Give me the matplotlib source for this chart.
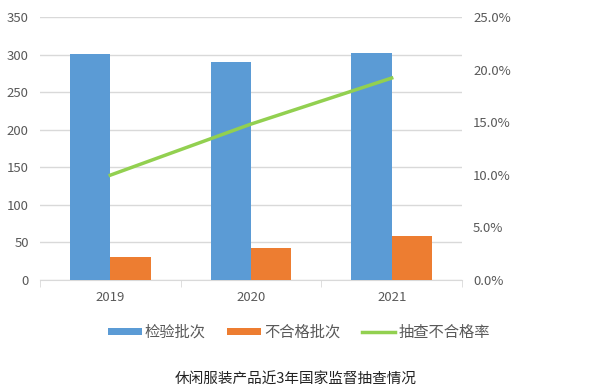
import matplotlib
matplotlib.use("Agg")
import matplotlib.pyplot as plt
from matplotlib.ticker import FuncFormatter
import numpy as np

plt.rcParams['font.family'] = ['Noto Sans CJK SC', 'DejaVu Sans']

years = ['2019', '2020', '2021']
checked = [301, 290, 302]
failed = [30, 43, 58]
fail_rate = [0.0997, 0.1483, 0.1921]

blue = '#5B9BD5'
orange = '#ED7D31'
green = '#92D050'
grid_c = '#D9D9D9'
text_c = '#595959'

fig = plt.figure(figsize=(6.04, 3.9), dpi=100)
ax = fig.add_axes([0.066, 0.282, 0.699, 0.674])
ax2 = ax.twinx()

x = np.arange(len(years))
w = 0.287
b1 = ax.bar(x - w / 2, checked, w, color=blue, label='检验批次', zorder=3)
b2 = ax.bar(x + w / 2, failed, w, color=orange, label='不合格批次', zorder=3)
ln, = ax2.plot(x, fail_rate, color=green, lw=2.5, label='抽查不合格率', zorder=4)

ax.set_xlim(-0.5, 2.5)
ax.set_ylim(0, 350)
ax.set_yticks(range(0, 351, 50))
ax2.set_ylim(0, 0.25)
ax2.set_yticks(np.arange(0, 0.251, 0.05))
ax2.yaxis.set_major_formatter(FuncFormatter(lambda v, p: '%.1f%%' % (v * 100)))

ax.grid(axis='y', color=grid_c, lw=1, zorder=0)
for a in (ax, ax2):
    for s in ['top', 'left', 'right', 'bottom']:
        a.spines[s].set_visible(False)
    a.tick_params(axis='y', length=0, labelsize=9.5, labelcolor=text_c, pad=8)
ax.spines['bottom'].set_visible(True)
ax.spines['bottom'].set_color(grid_c)

ax.set_xticks(x)
ax.set_xticklabels(years)
ax.tick_params(axis='x', length=0, labelsize=9.5, labelcolor=text_c, pad=8)
ax.set_xticks([-0.5, 0.5, 1.5, 2.5], minor=True)
ax.tick_params(axis='x', which='minor', length=5, color=grid_c)

fig.legend(handles=[b1, b2, ln], loc='center', bbox_to_anchor=(0.495, 0.148),
           ncol=3, frameon=False, fontsize=11, labelcolor=text_c,
           handlelength=2.2, handleheight=0.35, handletextpad=0.2,
           columnspacing=1.4)

fig.text(0.49, 0.026, '休闲服装产品近3年国家监督抽查情况', ha='center', va='center',
         fontsize=10.5, color='#222222')

fig.savefig('out.png', dpi=100)
